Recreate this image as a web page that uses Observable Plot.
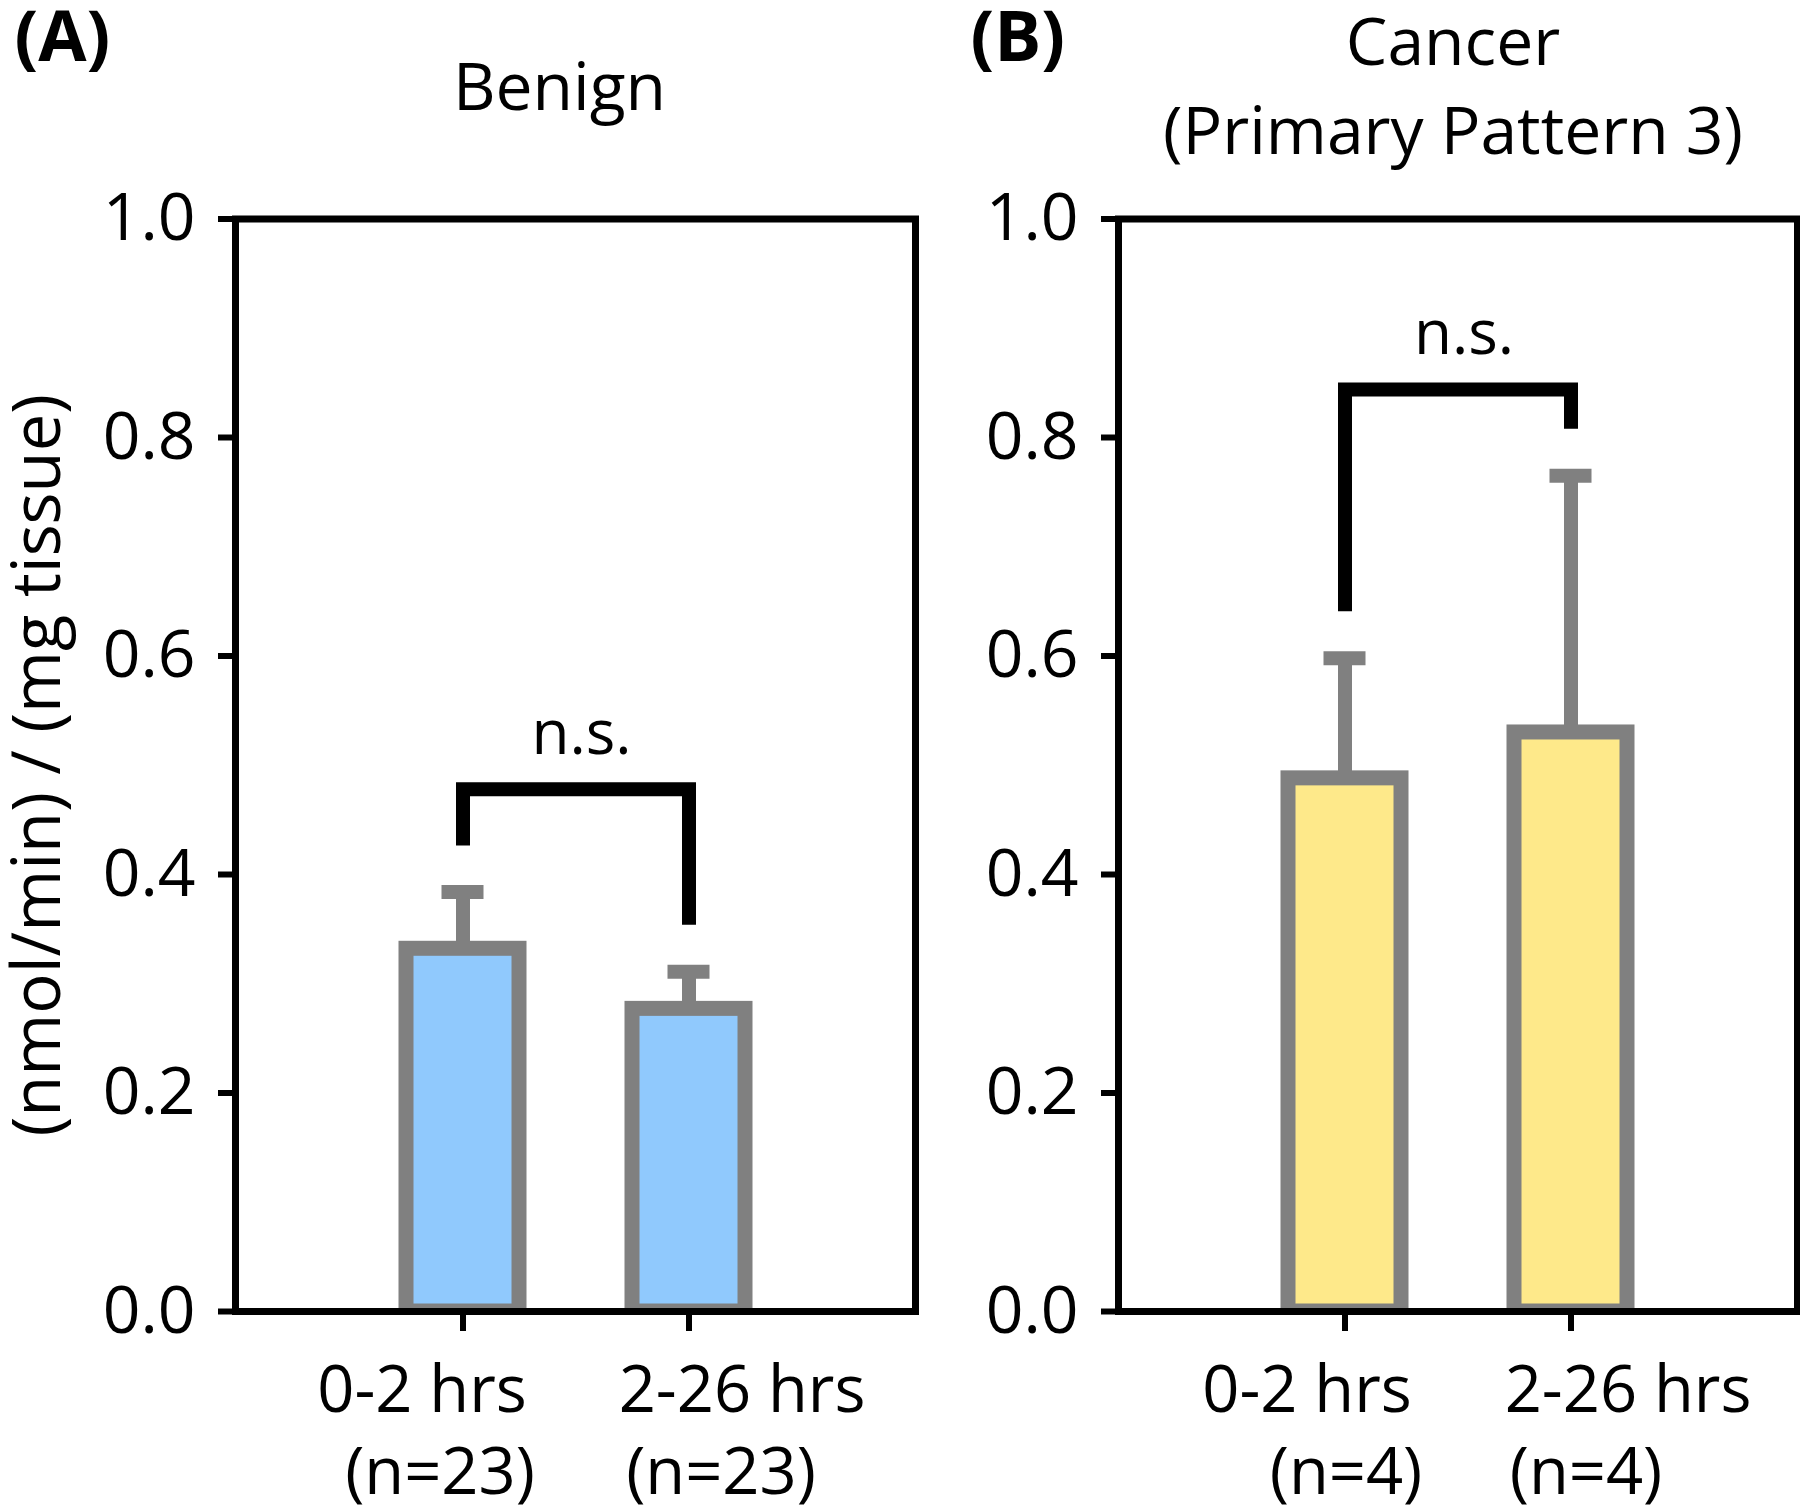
<!DOCTYPE html>
<html>
<head>
<meta charset="utf-8">
<script src="https://cdn.jsdelivr.net/npm/d3@7"></script>
<script src="https://cdn.jsdelivr.net/npm/@observablehq/plot@0.6"></script>
<style>
  html, body { margin: 0; padding: 0; background: #fff; }
  #root { position: relative; width: 1800px; height: 1511px; background: #fff; overflow: hidden; }
  .panel { position: absolute; top: 0; }
</style>
</head>
<body>
<div id="root">
  <div id="panelA" class="panel" style="left:0px"></div>
  <div id="panelB" class="panel" style="left:960px"></div>
</div>
<script>
// ---- data ----
const categories = ["0-2 hrs", "2-26 hrs"];
const yTicks = [0, 0.2, 0.4, 0.6, 0.8, 1.0];

const benignMean = [0.332, 0.277];
const benignErr = [0.052, 0.034];
const benignN = ["(n=23)", "(n=23)"];
const benignBracket = [0.4265, 0.478, 0.354]; // left leg end, top, right leg end
const benignSigY = 0.51;

const cancerMean = [0.488, 0.530];
const cancerErr = [0.110, 0.235];
const cancerN = ["(n=4)", "(n=4)"];
const cancerBracket = [0.641, 0.844, 0.808];
const cancerSigY = 0.876;

const sigLabel = "n.s.";
const yLabel = "(nmol/min) / (mg tissue)";

const FONT = "Open Sans";
const GRAY = "#808080";

function panel({width, marginLeft, marginRight, letter, letterDx, title, titleDx, titleDy,
                mean, err, nLabels, bracket, sigY, fill, showYLabel, shifts}) {
  const rows = categories.map((c, i) => ({cat: c, mean: mean[i], err: err[i], hi: mean[i] + err[i], n: nLabels[i]}));
  const br = [
    {x: categories[0], y: bracket[0]},
    {x: categories[0], y: bracket[1]},
    {x: categories[1], y: bracket[1]},
    {x: categories[1], y: bracket[2]}
  ];
  const marks = [
    Plot.ruleX(rows, {x: "cat", y1: "mean", y2: "hi", stroke: GRAY, strokeWidth: 14}),
    Plot.barY(rows, {x: "cat", y: "mean", fill: fill, stroke: GRAY, strokeWidth: 15, clip: "frame"}),
    Plot.tickY(rows, {x: "cat", y: "hi", stroke: GRAY, strokeWidth: 14, insetLeft: 35.5, insetRight: 35.5}),
    Plot.line(br, {x: "x", y: "y", stroke: "black", strokeWidth: 14, strokeLinejoin: "miter", strokeLinecap: "butt", strokeMiterlimit: 10}),
    Plot.text([sigLabel], {y: () => sigY, frameAnchor: "middle", text: d => d, lineAnchor: "bottom", fontSize: 62, dx: 6}),
    Plot.axisY({ticks: yTicks, tickFormat: d3.format(".1f"), tickSize: 17, tickPadding: 23, strokeWidth: 6, fontSize: 66, label: null}),
    Plot.axisX({tickSize: 20, strokeWidth: 6, tickFormat: () => "", label: null}),
    Plot.frame({stroke: "black", strokeWidth: 7}),
    Plot.text([letter], {frameAnchor: "top-left", textAnchor: "start", dx: letterDx, dy: -158, lineAnchor: "bottom", fontWeight: "bold", fontSize: 70}),
    Plot.text([title], {frameAnchor: "top", dx: titleDx, dy: titleDy, lineAnchor: "bottom", fontSize: 66, lineHeight: 1.34})
  ];
  rows.forEach((r, i) => {
    marks.push(Plot.text([r], {x: "cat", frameAnchor: "bottom", text: "cat", dy: 100, dx: shifts[i][0], lineAnchor: "bottom", fontSize: 65}));
    marks.push(Plot.text([r], {x: "cat", frameAnchor: "bottom", text: "n", dy: 182, dx: shifts[i][1], lineAnchor: "bottom", fontSize: 65}));
  });
  if (showYLabel) {
    marks.push(Plot.text([yLabel], {frameAnchor: "left", textAnchor: "middle", rotate: -90, dx: -197, lineAnchor: "middle", fontSize: 67}));
  }
  return Plot.plot({
    width, height: 1511,
    marginLeft, marginRight, marginTop: 218.5, marginBottom: 200,
    style: {fontFamily: FONT, background: "transparent", color: "black", overflow: "visible"},
    x: {type: "band", domain: categories, paddingInner: 0.5, paddingOuter: 0.75},
    y: {domain: [0, 1]},
    marks
  });
}

document.getElementById("panelA").appendChild(panel({
  width: 960, marginLeft: 235, marginRight: 45,
  letter: "(A)", letterDx: -221, title: "Benign", titleDx: -16, titleDy: -109.5,
  mean: benignMean, err: benignErr, nLabels: benignN, bracket: benignBracket, sigY: benignSigY,
  fill: "#90c9fd", showYLabel: true, shifts: [[-41, -23], [53, 32]]
}));

document.getElementById("panelB").appendChild(panel({
  width: 840, marginLeft: 158, marginRight: 3,
  letter: "(B)", letterDx: -148, title: "Cancer\n(Primary Pattern 3)", titleDx: -5, titleDy: -65.5,
  mean: cancerMean, err: cancerErr, nLabels: cancerN, bracket: cancerBracket, sigY: cancerSigY,
  fill: "#fee98a", showYLabel: false, shifts: [[-38, 1], [57, 15]]
}));
</script>
</body>
</html>
